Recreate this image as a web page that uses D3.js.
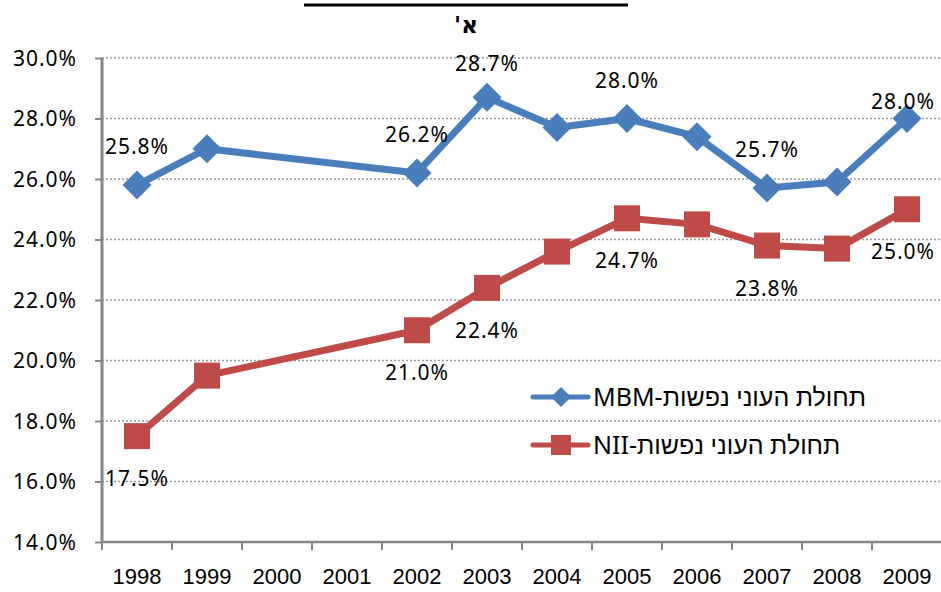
<!DOCTYPE html>
<meta charset="utf-8">
<script src="https://d3js.org/d3.v7.min.js"></script>
<style>
  body { margin: 0; background: #fff; }
  svg { display: block; }
  .num { font-family: "Noto Sans", sans-serif; font-size: 21px; fill: #000; }
  .year { font-family: "Liberation Sans", Arial, sans-serif; font-size: 22px; fill: #000; }
  .legend { font-family: "Noto Sans", sans-serif; font-size: 25px; fill: #000; }
</style>
<div id="chart"></div>
<script>
// data
var years = ["1998","1999","2000","2001","2002","2003","2004","2005","2006","2007","2008","2009"]
var mbm = [25.8, 27.0, null, null, 26.2, 28.7, 27.7, 28.0, 27.4, 25.7, 25.9, 28.0]
var nii = [17.5, 19.5, null, null, 21.0, 22.4, 23.6, 24.7, 24.5, 23.8, 23.7, 25.0]
var yTicks = [14, 16, 18, 20, 22, 24, 26, 28, 30]
var labelYears = ["1998","2002","2003","2005","2007","2009"]
var seriesNames = ["תחולת העוני נפשות-MBM", "תחולת העוני נפשות-NII"]
var panelLabel = "א'"

var width = 941, height = 592
var margin = {top: 58, right: 0, bottom: 50, left: 102}
var blue = "#4a7ebb", red = "#be4b48", axisGrey = "#868686"

var svg = d3.select("#chart").append("svg")
  .attr("width", width)
  .attr("height", height)

var x = d3.scaleBand()
  .domain(years)
  .range([margin.left, 942])
  .padding(0)

var y = d3.scaleLinear()
  .domain([14, 30])
  .range([height - margin.bottom, margin.top])

var cx = function(yr){ return x(yr) + x.bandwidth() / 2 }

// cut off title underline + panel label
svg.append("line")
  .attr("x1", 304).attr("x2", 628)
  .attr("y1", 5).attr("y2", 5)
  .attr("stroke", "#000").attr("stroke-width", 3)

// force right-to-left so the geresh sits on the left
svg.append("text")
  .attr("x", 466).attr("y", 33)
  .attr("text-anchor", "middle")
  .attr("direction", "rtl")
  .attr("unicode-bidi", "bidi-override")
  .style("direction", "rtl")
  .style("unicode-bidi", "bidi-override")
  .style("font-family", "'DejaVu Sans', sans-serif")
  .style("font-weight", "bold")
  .style("font-size", "23px")
  .text(panelLabel)

// gridlines
svg.append("g")
  .selectAll("line")
  .data(yTicks.slice(1))
  .enter().append("line")
  .attr("x1", margin.left).attr("x2", 942)
  .attr("y1", function(d){ return y(d) }).attr("y2", function(d){ return y(d) })
  .attr("stroke", "#9a9a9a")
  .attr("stroke-width", 1.3)
  .attr("stroke-dasharray", "2,2")

// y axis
var yAxis = svg.append("g")
  .attr("transform", "translate(" + margin.left + ",0)")
  .call(d3.axisLeft(y).tickValues(yTicks).tickSize(7).tickPadding(18)
    .tickFormat(function(d){ return d.toFixed(1) + "%" }))
yAxis.select(".domain").remove()
yAxis.selectAll(".tick line").attr("stroke", axisGrey).attr("stroke-width", 2)
yAxis.selectAll(".tick text").attr("class", "num").attr("dy", "0.35em")
  .style("letter-spacing", "1px")
svg.append("line")
  .attr("x1", margin.left).attr("x2", margin.left)
  .attr("y1", y(30)).attr("y2", y(14) + 1)
  .attr("stroke", axisGrey).attr("stroke-width", 3)

// x axis
svg.append("line")
  .attr("x1", margin.left).attr("x2", 942)
  .attr("y1", y(14)).attr("y2", y(14))
  .attr("stroke", axisGrey).attr("stroke-width", 2.5)

svg.append("g")
  .selectAll("line")
  .data(years.concat(["end"]))
  .enter().append("line")
  .attr("x1", function(d){ return d === "end" ? x.range()[1] : x(d) })
  .attr("x2", function(d){ return d === "end" ? x.range()[1] : x(d) })
  .attr("y1", y(14)).attr("y2", y(14) + 8)
  .attr("stroke", axisGrey).attr("stroke-width", 2)

var xAxis = svg.append("g")
  .attr("transform", "translate(0," + y(14) + ")")
  .call(d3.axisBottom(x).tickSize(0).tickPadding(26))
xAxis.select(".domain").remove()
xAxis.selectAll(".tick text").attr("class", "year")

// series
var series = [
  {name: seriesNames[0], values: mbm, color: blue, marker: "diamond"},
  {name: seriesNames[1], values: nii, color: red, marker: "square"}
]

var line = d3.line()
  .x(function(d){ return cx(d.year) })
  .y(function(d){ return y(d.value) })

function points(vals){
  return years.map(function(yr, i){ return {year: yr, value: vals[i]} })
    .filter(function(d){ return d.value !== null })
}

function drawMarker(g, type, px, py, size, color){
  if (type === "diamond") {
    var h = size / 2
    g.append("path")
      .attr("d", "M" + px + "," + (py - h) + "L" + (px + h) + "," + py + "L" + px + "," + (py + h) + "L" + (px - h) + "," + py + "Z")
      .attr("fill", color)
  } else {
    g.append("rect")
      .attr("x", px - size / 2).attr("y", py - size / 2)
      .attr("width", size).attr("height", size)
      .attr("fill", color)
  }
}

series.forEach(function(s){
  var pts = points(s.values)
  svg.append("path")
    .datum(pts)
    .attr("d", line)
    .attr("fill", "none")
    .attr("stroke", s.color)
    .attr("stroke-width", 7)
    .attr("stroke-linejoin", "round")
  var mg = svg.append("g")
  pts.forEach(function(d){
    drawMarker(mg, s.marker, cx(d.year), y(d.value), s.marker === "diamond" ? 29 : 26, s.color)
  })
})

// data labels: MBM above, NII below
function labelPos(s, d){
  var px = cx(d.year), py = y(d.value)
  if (s.marker === "diamond") {
    py = py - 31
    if (d.year === "2003") py += 5
    if (d.year === "2009") { py += 21; px -= 4 }
  } else {
    py = py + 50
    if (d.year === "2009") px -= 4
  }
  return [px, py]
}

series.forEach(function(s){
  var pts = points(s.values).filter(function(d){ return labelYears.indexOf(d.year) >= 0 })
  svg.append("g")
    .selectAll("text")
    .data(pts)
    .enter().append("text")
    .attr("class", "num")
    .attr("text-anchor", "middle")
    .style("letter-spacing", "1px")
    .attr("x", function(d){ return labelPos(s, d)[0] })
    .attr("y", function(d){ return labelPos(s, d)[1] })
    .text(function(d){ return d.value.toFixed(1) + "%" })
})

// legend
var legend = svg.append("g")
series.forEach(function(s, i){
  var ly = 397 + i * 48
  legend.append("line")
    .attr("x1", 533).attr("x2", 588)
    .attr("y1", ly).attr("y2", ly)
    .attr("stroke", s.color).attr("stroke-width", 5)
    .attr("stroke-linecap", "round")
  drawMarker(legend, s.marker, 561, ly, 20, s.color)
  legend.append("text")
    .attr("class", "legend")
    .attr("x", 593).attr("y", ly + 9)
    .attr("text-anchor", "end")
    .style("direction", "rtl")
    .text(s.name)
})
</script>
